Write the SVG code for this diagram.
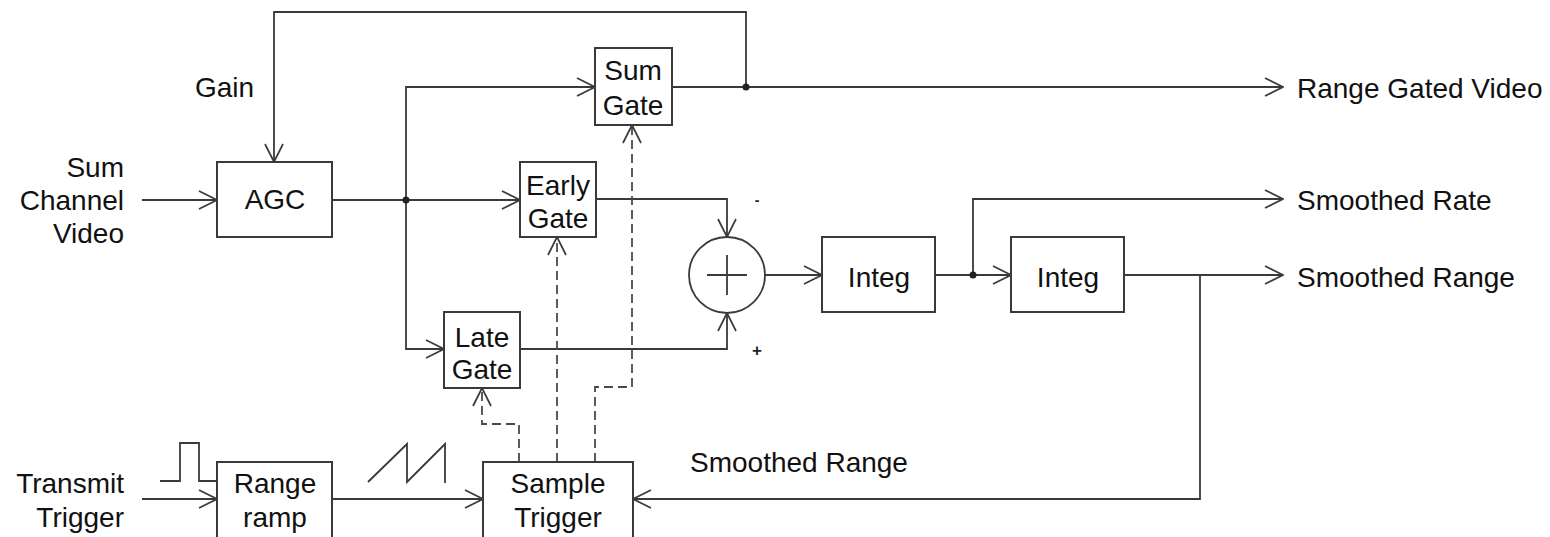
<svg xmlns="http://www.w3.org/2000/svg" width="1550" height="537" viewBox="0 0 1550 537">
<style>
  .box{fill:#fff;stroke:#3a3a3a;stroke-width:2}
  .ln{fill:none;stroke:#3a3a3a;stroke-width:1.8}
  .dash{fill:none;stroke:#4a4a4a;stroke-width:1.8;stroke-dasharray:9,5}
  .t{font-family:"Liberation Sans",Arial,sans-serif;font-size:28px;fill:#111}
  .m{text-anchor:middle}
  .e{text-anchor:end}
  .dot{fill:#222}
</style>
<defs>
  <marker id="arr" viewBox="0 0 20 22" refX="19" refY="11" markerWidth="20" markerHeight="22" markerUnits="userSpaceOnUse" orient="auto">
    <path d="M1,2 L19,11 L1,20" fill="none" stroke="#3a3a3a" stroke-width="1.7" stroke-dasharray="none"/>
  </marker>
</defs>
<rect width="1550" height="537" fill="#fff"/>

<g id="connectors">
  <path class="ln" d="M746,87 V12 H274 V162" marker-end="url(#arr)"/>
  <path class="ln" d="M142,200 H217" marker-end="url(#arr)"/>
  <path class="ln" d="M332,200 H406"/>
  <path class="ln" d="M406,200 V87 H595" marker-end="url(#arr)"/>
  <path class="ln" d="M406,200 V349 H444" marker-end="url(#arr)"/>
  <path class="ln" d="M406,200 H520" marker-end="url(#arr)"/>
  <path class="ln" d="M672,87 H1283" marker-end="url(#arr)"/>
  <path class="ln" d="M596,199 H727 V237" marker-end="url(#arr)"/>
  <path class="ln" d="M520,349 H727 V313" marker-end="url(#arr)"/>
  <path class="ln" d="M765,275 H822" marker-end="url(#arr)"/>
  <path class="ln" d="M935,275 H1011" marker-end="url(#arr)"/>
  <path class="ln" d="M973,275 V199 H1283" marker-end="url(#arr)"/>
  <path class="ln" d="M1124,275 H1283" marker-end="url(#arr)"/>
  <path class="ln" d="M1200,275 V499 H633" marker-end="url(#arr)"/>
  <path class="ln" d="M142,499 H217" marker-end="url(#arr)"/>
  <path class="ln" d="M332,499 H483" marker-end="url(#arr)"/>
  <path class="dash" d="M519,462 V424 H482 V388" marker-end="url(#arr)"/>
  <path class="dash" d="M557,462 V237" marker-end="url(#arr)"/>
  <path class="dash" d="M595,462 V387 H632 V125" marker-end="url(#arr)"/>
  <circle class="dot" cx="406" cy="200" r="3.5"/>
  <circle class="dot" cx="746" cy="87" r="3.5"/>
  <circle class="dot" cx="973" cy="275" r="3.5"/>
</g>

<g id="waveforms">
  <polyline class="ln" points="160,481 180,481 180,443 199,443 199,481 217,481"/>
  <polyline class="ln" points="368,482 407,444 407,482 445,444 445,483"/>
</g>

<g id="agc">
  <rect class="box" x="217" y="162" width="115" height="75"/>
  <text class="t m" x="275" y="209">AGC</text>
</g>
<g id="sum-gate">
  <rect class="box" x="595" y="48" width="77" height="77"/>
  <text class="t m" x="633" y="80">Sum</text>
  <text class="t m" x="633" y="115">Gate</text>
</g>
<g id="early-gate">
  <rect class="box" x="520" y="162" width="76" height="75"/>
  <text class="t m" x="558" y="195">Early</text>
  <text class="t m" x="558" y="228">Gate</text>
</g>
<g id="late-gate">
  <rect class="box" x="444" y="312" width="76" height="76"/>
  <text class="t m" x="482" y="347">Late</text>
  <text class="t m" x="482" y="379">Gate</text>
</g>
<g id="summer">
  <circle cx="727" cy="275" r="38" fill="#fff" stroke="#3a3a3a" stroke-width="1.8"/>
  <path class="ln" d="M707,275 H747 M727,255 V295"/>
  <text x="757" y="205" font-family="Liberation Sans,Arial,sans-serif" font-size="14" font-weight="bold" fill="#222" text-anchor="middle">-</text>
  <text x="757" y="356" font-family="Liberation Sans,Arial,sans-serif" font-size="17" font-weight="bold" fill="#222" text-anchor="middle">+</text>
</g>
<g id="integ1">
  <rect class="box" x="822" y="237" width="113" height="75"/>
  <text class="t m" x="879" y="287">Integ</text>
</g>
<g id="integ2">
  <rect class="box" x="1011" y="237" width="113" height="75"/>
  <text class="t m" x="1068" y="287">Integ</text>
</g>
<g id="range-ramp">
  <rect class="box" x="217" y="462" width="115" height="90"/>
  <text class="t m" x="275" y="493">Range</text>
  <text class="t m" x="275" y="527">ramp</text>
</g>
<g id="sample-trigger">
  <rect class="box" x="483" y="462" width="150" height="90"/>
  <text class="t m" x="558" y="493">Sample</text>
  <text class="t m" x="558" y="527">Trigger</text>
</g>

<g id="labels">
  <text class="t" x="195" y="97">Gain</text>
  <text class="t e" x="124" y="177">Sum</text>
  <text class="t e" x="124" y="210">Channel</text>
  <text class="t e" x="124" y="243">Video</text>
  <text class="t e" x="124" y="493">Transmit</text>
  <text class="t e" x="124" y="527">Trigger</text>
  <text class="t" x="1297" y="98">Range Gated Video</text>
  <text class="t" x="1297" y="210">Smoothed Rate</text>
  <text class="t" x="1297" y="287">Smoothed Range</text>
  <text class="t" x="690" y="472">Smoothed Range</text>
</g>
</svg>
